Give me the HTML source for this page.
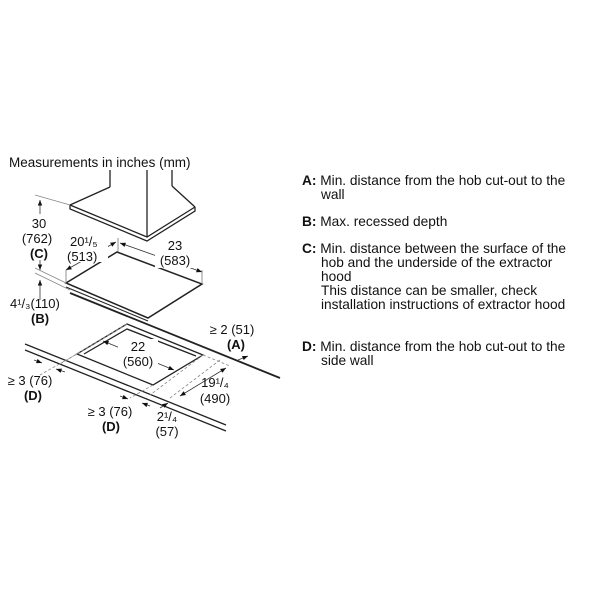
<!DOCTYPE html>
<html><head><style>
body{margin:0;background:#fff;}
svg text{font-family:"Liberation Sans",Arial,sans-serif;fill:#111;}
</style></head><body>
<svg width="600" height="600" viewBox="0 0 600 600" xmlns="http://www.w3.org/2000/svg">
<defs>
<marker id="ar" viewBox="0 0 10 10" refX="10" refY="5" markerWidth="7" markerHeight="7" orient="auto-start-reverse"><path d="M0,1 L10,5 L0,9 z" fill="#111"/></marker>
</defs>
<rect width="600" height="600" fill="#fff"/>
<text x="9" y="167" font-size="13.5">Measurements in inches (mm)</text>
<!-- hood -->
<g stroke="#222" stroke-width="1.3" fill="none">
<line x1="110" y1="170" x2="110" y2="187"/>
<line x1="147" y1="170" x2="147" y2="237"/>
<line x1="172" y1="170" x2="172" y2="186"/>
<line x1="110" y1="187" x2="70" y2="205"/>
<line x1="172" y1="186" x2="195" y2="207"/>
<polyline points="70,205 147,237 195,207"/>
<polyline points="70,205 70,209 147,241 195,211 195,207"/>
</g>
<line x1="35" y1="195" x2="70" y2="205" stroke="#888" stroke-width="0.8"/>
<!-- C dimension -->
<line x1="40" y1="200" x2="40" y2="270" stroke="#333" stroke-width="0.8" marker-start="url(#ar)" marker-end="url(#ar)"/>
<rect x="26" y="214" width="28" height="46" fill="#fff"/>
<text x="39" y="228" font-size="13" text-anchor="middle">30</text>
<text x="37" y="243" font-size="13" text-anchor="middle">(762)</text>
<text x="39" y="258" font-size="13" text-anchor="middle" font-weight="bold">(C)</text>
<!-- hob -->
<g stroke="#222" fill="none">
<polygon points="117,252 202,284 148,318 66,283" stroke-width="1.5"/>
<line x1="66" y1="287" x2="148" y2="321" stroke-width="1"/>
<line x1="70" y1="293" x2="280" y2="378" stroke-width="1.8"/>
<line x1="35" y1="268" x2="66" y2="283" stroke="#888" stroke-width="0.8"/>
<line x1="35" y1="273" x2="70" y2="290" stroke="#888" stroke-width="0.8"/>
</g>
<line x1="40" y1="280" x2="40" y2="300" stroke="#333" stroke-width="0.8" marker-start="url(#ar)"/>
<text x="10" y="308" font-size="13">4¹/₃(110)</text>
<text x="31" y="323" font-size="13" font-weight="bold">(B)</text>
<!-- hob dims -->
<g stroke="#777" stroke-width="0.8">
<line x1="118" y1="238" x2="118" y2="252"/>
<line x1="66" y1="270" x2="66" y2="284"/>
<line x1="202" y1="270" x2="202" y2="284"/>
</g>
<line x1="66" y1="270" x2="116" y2="242" stroke="#333" stroke-width="0.8" marker-start="url(#ar)" marker-end="url(#ar)"/>
<line x1="120" y1="243" x2="202" y2="272" stroke="#333" stroke-width="0.8" marker-start="url(#ar)" marker-end="url(#ar)"/>
<rect x="66" y="232" width="42" height="30" fill="#fff"/>
<text x="70" y="246" font-size="13">20¹/₅</text>
<text x="67" y="261" font-size="13">(513)</text>
<rect x="155" y="238" width="42" height="30" fill="#fff"/>
<text x="175" y="250" font-size="13" text-anchor="middle">23</text>
<text x="175" y="265" font-size="13" text-anchor="middle">(583)</text>
<!-- front worktop -->
<line x1="25" y1="344" x2="226" y2="425" stroke="#222" stroke-width="1.3"/>
<line x1="25" y1="350" x2="226" y2="431" stroke="#222" stroke-width="1.3"/>
<!-- cutout -->
<g stroke="#222" fill="none" stroke-width="1.3">
<polygon points="127,324 203,355 153,385 77,354"/>
<polyline points="84,354 127,329 196,356"/>
</g>
<g stroke="#888" stroke-width="0.8" stroke-dasharray="3,2" fill="none">
<line x1="77" y1="354" x2="40" y2="375"/>
<line x1="127" y1="324" x2="60" y2="364"/>
<line x1="203" y1="355" x2="230" y2="366"/>
<line x1="153" y1="385" x2="130" y2="398"/>
<line x1="203" y1="355" x2="150" y2="395"/>
<line x1="220" y1="360" x2="170" y2="398"/>
</g>
<line x1="103" y1="341" x2="174" y2="370" stroke="#333" stroke-width="0.8" marker-start="url(#ar)" marker-end="url(#ar)"/>
<rect x="118" y="339" width="40" height="30" fill="#fff"/>
<text x="138" y="351" font-size="13" text-anchor="middle">22</text>
<text x="138" y="366" font-size="13" text-anchor="middle">(560)</text>
<line x1="180" y1="396" x2="226" y2="368" stroke="#333" stroke-width="0.8" marker-start="url(#ar)" marker-end="url(#ar)"/>
<text x="215" y="387" font-size="13" text-anchor="middle">19¹/₄</text>
<text x="215" y="403" font-size="13" text-anchor="middle">(490)</text>
<line x1="238" y1="360" x2="248" y2="356" stroke="#333" stroke-width="0.8" marker-end="url(#ar)"/>
<text x="232" y="334" font-size="13" text-anchor="middle">≥ 2 (51)</text>
<text x="236" y="349" font-size="13" text-anchor="middle" font-weight="bold">(A)</text>
<line x1="34" y1="360" x2="42" y2="363" stroke="#333" stroke-width="0.8" marker-end="url(#ar)"/>
<line x1="65" y1="372" x2="56" y2="369" stroke="#333" stroke-width="0.8" marker-end="url(#ar)"/>
<text x="30" y="385" font-size="13" text-anchor="middle">≥ 3 (76)</text>
<text x="33" y="400" font-size="13" text-anchor="middle" font-weight="bold">(D)</text>
<line x1="120" y1="396" x2="128" y2="399" stroke="#333" stroke-width="0.8" marker-end="url(#ar)"/>
<line x1="150" y1="406" x2="142" y2="403" stroke="#333" stroke-width="0.8" marker-end="url(#ar)"/>
<line x1="160" y1="408" x2="168" y2="403" stroke="#333" stroke-width="0.8" marker-end="url(#ar)"/>
<text x="110" y="416" font-size="13" text-anchor="middle">≥ 3 (76)</text>
<text x="111" y="431" font-size="13" text-anchor="middle" font-weight="bold">(D)</text>
<text x="167" y="421" font-size="13" text-anchor="middle">2¹/₄</text>
<text x="167" y="436" font-size="13" text-anchor="middle">(57)</text>
<!-- legend -->
<g font-size="13.7">
<text x="302" y="185"><tspan font-weight="bold">A:</tspan> Min. distance from the hob cut-out to the</text>
<text x="321" y="199">wall</text>
<text x="302" y="226"><tspan font-weight="bold">B:</tspan> Max. recessed depth</text>
<text x="302" y="253"><tspan font-weight="bold">C:</tspan> Min. distance between the surface of the</text>
<text x="321" y="267">hob and the underside of the extractor</text>
<text x="321" y="281">hood</text>
<text x="321" y="295">This distance can be smaller, check</text>
<text x="321" y="309">installation instructions of extractor hood</text>
<text x="302" y="351"><tspan font-weight="bold">D:</tspan> Min. distance from the hob cut-out to the</text>
<text x="321" y="365">side wall</text>
</g>
</svg>
</body></html>
